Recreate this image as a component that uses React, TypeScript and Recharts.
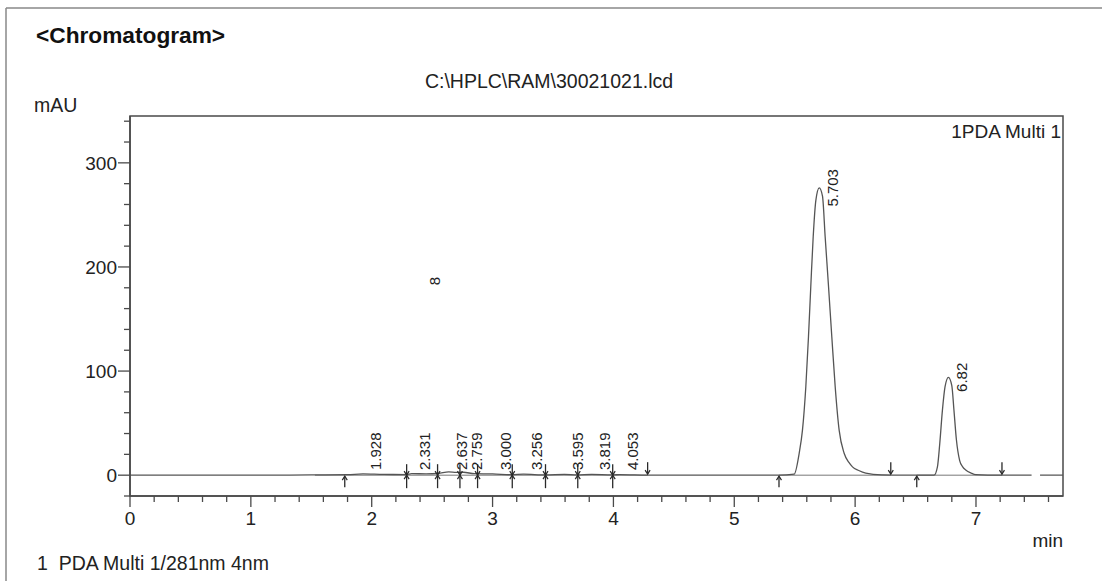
import React from 'react';
import { ComposedChart, Line, Scatter, XAxis, YAxis, ReferenceArea } from 'recharts';

// ---- data ----
const signalTimes = [
  0, 0.5, 1.0, 1.5, 1.8, 1.928, 2.1, 2.29, 2.331, 2.45, 2.55, 2.637, 2.7, 2.759, 2.85, 3.0, 3.16, 3.256,
  3.44, 3.595, 3.7, 3.819, 3.99, 4.053, 4.28, 4.6, 5.0, 5.37, 5.496, 5.537, 5.564, 5.592, 5.614, 5.633,
  5.653, 5.675, 5.703, 5.73, 5.752, 5.78, 5.807, 5.835, 5.868, 5.909, 5.95, 5.978, 6.03, 6.088, 6.22,
  6.4, 6.653, 6.681, 6.7, 6.722, 6.744, 6.772, 6.8, 6.818, 6.838, 6.865, 6.89, 6.915, 6.96, 6.998, 7.2,
  7.46, 7.5, 7.53, 7.72,
];
const signalValues: (number | null)[] = [
  0, 0, 0, 0.2, 0.5, 1.2, 0.7, 0.6, 1.5, 1.2, 1.6, 3.2, 2.6, 2.8, 1.4, 1.2, 0.4, 1.0,
  0.2, 0.8, 0.2, 0.8, 0.2, 0.6, 0.1, 0, 0, 0, 1, 21, 43, 85, 133, 181,
  229, 264, 276, 268, 229, 181, 133, 85, 43, 21, 12, 8, 4.5, 2, 0.3,
  0, 0, 8, 30, 62, 85, 94, 86, 62, 34, 14, 8, 5, 2, 0.5, 0,
  0, null, 0, 0,
];

const baselineStarts = [1.53, 5.37, 6.51];
const baselineEnds = [4.283, 6.295, 7.215];

const markerTimes = [1.777, 2.289, 2.545, 2.73, 2.876, 3.163, 3.438, 3.705, 3.994, 4.283, 5.37, 6.295, 6.51, 7.215];
const markerKinds = ['up', 'both', 'both', 'both', 'both', 'both', 'both', 'both', 'both', 'down', 'up', 'down', 'up', 'down'];

const peakTimes = [1.928, 2.331, 2.637, 2.759, 3.0, 3.256, 3.595, 3.819, 4.053, 5.703, 6.772];
const peakHeights = [1.2, 1.5, 3.2, 2.8, 1.2, 1.0, 0.8, 0.8, 0.6, 276, 94];
const peakLabels = ['1.928', '2.331', '2.637', '2.759', '3.000', '3.256', '3.595', '3.819', '4.053', '5.703', '6.82'];
const minLabelCenter = 23;

const strayLabelTimes = [2.413];
const strayLabelValues = [186.5];
const strayLabelTexts = ['8'];

const xMajorTicks = [0, 1, 2, 3, 4, 5, 6, 7];
const xMinorStep = 0.2;
const xTickMax = 7.6;
const yMajorTicks = [0, 100, 200, 300];
const yMinorStep = 20;
const yTickMin = -20;
const yTickMax = 340;

const xDomain = [0, 7.72];
const yDomain = [-20, 345];

// ---- built tables ----
const signalData = signalTimes.map((t, i) => ({ t, v: signalValues[i] }));
const baselineData = baselineStarts.map((s, i) => [
  { t: s, v: 0 },
  { t: baselineEnds[i], v: 0 },
]);
const markerData = markerTimes.map((t, i) => ({ t, v: 0, kind: markerKinds[i] }));
const labelData = peakTimes.map((t, i) => ({
  t,
  v: Math.max(peakHeights[i], minLabelCenter),
  label: peakLabels[i],
}));
const strayData = strayLabelTimes.map((t, i) => ({ t, v: strayLabelValues[i], label: strayLabelTexts[i] }));

const xTicks: number[] = [];
for (let i = 0; i * xMinorStep <= xTickMax + 1e-9; i++) xTicks.push(Math.round(i * xMinorStep * 10) / 10);
const yTicks: number[] = [];
for (let v = yTickMin; v <= yTickMax; v += yMinorStep) yTicks.push(v);

// ---- styles ----
const FONT = '"Liberation Sans", Arial, sans-serif';
const TEXT = '#222';
const AXIS = '#4a4a4a';
const TICK_FS = 19;

const XTick = (props: any) => {
  const { x, y, payload } = props;
  const v = payload.value;
  const major = xMajorTicks.some((m) => Math.abs(m - v) < 1e-6);
  return (
    <g>
      <line x1={x} x2={x} y1={y} y2={y + (major ? 11 : 6)} stroke={AXIS} strokeWidth={1.3} />
      {major && (
        <text x={x} y={y + 29} textAnchor="middle" fontSize={TICK_FS} fill={TEXT} fontFamily={FONT}>
          {v}
        </text>
      )}
    </g>
  );
};

const YTick = (props: any) => {
  const { x, y, payload } = props;
  const v = payload.value;
  const major = yMajorTicks.includes(v);
  return (
    <g>
      <line x1={x} x2={x - (major ? 12 : 6)} y1={y} y2={y} stroke={AXIS} strokeWidth={1.3} />
      {major && (
        <text x={x - 13} y={y} dy="0.36em" textAnchor="end" fontSize={TICK_FS} fill={TEXT} fontFamily={FONT}>
          {v}
        </text>
      )}
    </g>
  );
};

const MarkerShape = (props: any) => {
  const { cx, cy, payload } = props;
  const k = payload.kind;
  const s = '#2a2a2a';
  if (k === 'up') {
    return (
      <g>
        <line x1={cx} x2={cx} y1={cy + 12} y2={cy + 1} stroke={s} strokeWidth={1.3} />
        <path d={`M${cx - 2.5},${cy + 5} L${cx},${cy + 1} L${cx + 2.5},${cy + 5}`} fill="none" stroke={s} strokeWidth={1.2} />
      </g>
    );
  }
  if (k === 'down') {
    return (
      <g>
        <line x1={cx} x2={cx} y1={cy - 13} y2={cy - 1} stroke={s} strokeWidth={1.3} />
        <path d={`M${cx - 2.5},${cy - 5} L${cx},${cy - 1} L${cx + 2.5},${cy - 5}`} fill="none" stroke={s} strokeWidth={1.2} />
      </g>
    );
  }
  return (
    <g>
      <line x1={cx} x2={cx} y1={cy - 11} y2={cy + 13} stroke={s} strokeWidth={1.3} />
      <path d={`M${cx - 2.5},${cy - 4} L${cx},${cy} L${cx + 2.5},${cy - 4}`} fill="none" stroke={s} strokeWidth={1.2} />
      <path d={`M${cx - 2.5},${cy + 4} L${cx},${cy} L${cx + 2.5},${cy + 4}`} fill="none" stroke={s} strokeWidth={1.2} />
    </g>
  );
};

const RotatedLabel = (props: any) => {
  const { cx, cy, payload } = props;
  const x = cx + 13;
  return (
    <text
      x={x}
      y={cy}
      transform={`rotate(-90 ${x} ${cy})`}
      textAnchor="middle"
      dominantBaseline="central"
      fontSize={15}
      fill={TEXT}
      fontFamily={FONT}
    >
      {payload.label}
    </text>
  );
};

export default function App() {
  return (
    <div style={{ position: 'absolute', left: 0, top: 0, width: 1102, height: 581, background: '#fff' }}>
      <ComposedChart
        width={1102}
        height={581}
        margin={{ top: 116, right: 39, bottom: 45, left: 80 }}
      >
        <XAxis
          dataKey="t"
          type="number"
          domain={xDomain}
          allowDataOverflow
          ticks={xTicks}
          interval={0}
          tickSize={0}
          tickMargin={0}
          height={40}
          tick={<XTick />}
          axisLine={{ stroke: AXIS, strokeWidth: 1.5 }}
        />
        <YAxis
          type="number"
          domain={yDomain}
          allowDataOverflow
          ticks={yTicks}
          interval={0}
          tickSize={0}
          tickMargin={0}
          width={50}
          tick={<YTick />}
          axisLine={{ stroke: AXIS, strokeWidth: 1.5 }}
        />
        <ReferenceArea
          x1={xDomain[0]}
          x2={xDomain[1]}
          y1={yDomain[0]}
          y2={yDomain[1]}
          fill="none"
          stroke={AXIS}
          strokeWidth={1.5}
          ifOverflow="visible"
        />
        {baselineData.map((d, i) => (
          <Line
            key={'b' + i}
            data={d}
            dataKey="v"
            type="linear"
            dot={false}
            stroke="#777"
            strokeWidth={1}
            isAnimationActive={false}
          />
        ))}
        <Line
          data={signalData}
          dataKey="v"
          type="monotone"
          dot={false}
          stroke="#555"
          strokeWidth={1.3}
          connectNulls={false}
          isAnimationActive={false}
        />
        <Scatter data={markerData} dataKey="v" shape={<MarkerShape />} isAnimationActive={false} />
        <Scatter data={labelData} dataKey="v" shape={<RotatedLabel />} isAnimationActive={false} />
        <Scatter data={strayData} dataKey="v" shape={<RotatedLabel />} isAnimationActive={false} />
      </ComposedChart>
      <svg
        width={1102}
        height={581}
        style={{ position: 'absolute', left: 0, top: 0, pointerEvents: 'none' }}
      >
        <line x1={6} x2={6} y1={8} y2={581} stroke="#888" strokeWidth={1.5} />
        <line x1={6} x2={1102} y1={8} y2={8} stroke="#888" strokeWidth={1.5} />
        <text x={36} y={43} fontSize={22.7} fontWeight="bold" fill="#111" fontFamily={FONT}>
          {'<Chromatogram>'}
        </text>
        <text x={549} y={88} textAnchor="middle" fontSize={19.5} fill={TEXT} fontFamily={FONT}>
          {'C:\\HPLC\\RAM\\30021021.lcd'}
        </text>
        <text x={34} y={112} fontSize={19.5} fill={TEXT} fontFamily={FONT}>
          mAU
        </text>
        <text x={1061} y={138} textAnchor="end" fontSize={19} fill={TEXT} fontFamily={FONT}>
          1PDA Multi 1
        </text>
        <text x={1063} y={547} textAnchor="end" fontSize={19} fill={TEXT} fontFamily={FONT}>
          min
        </text>
        <text x={37} y={570} fontSize={19.5} fill={TEXT} fontFamily={FONT} style={{ whiteSpace: 'pre' }}>
          {'1  PDA Multi 1/281nm 4nm'}
        </text>
      </svg>
    </div>
  );
}
